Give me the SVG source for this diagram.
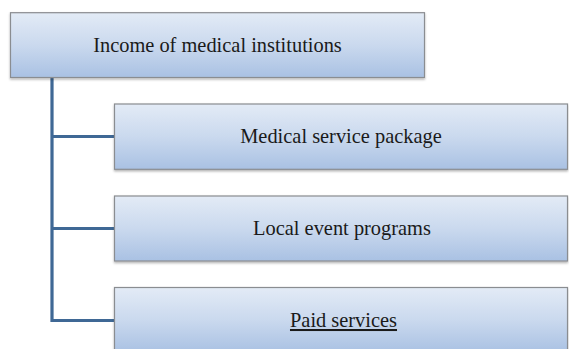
<svg xmlns="http://www.w3.org/2000/svg" width="569" height="349" viewBox="0 0 569 349">
<defs>
<linearGradient id="g" x1="0" y1="0" x2="0" y2="1">
<stop offset="0" stop-color="#e3ebf6"/>
<stop offset="0.5" stop-color="#cad9ee"/>
<stop offset="1" stop-color="#a9c1e3"/>
</linearGradient>
<filter id="sh" x="-5%" y="-10%" width="110%" height="130%">
<feDropShadow dx="0" dy="1.5" stdDeviation="1" flood-color="#000" flood-opacity="0.3"/>
</filter>
</defs>
<style>
.box{fill:url(#g);stroke:#8a8d91;stroke-width:1.2;filter:url(#sh)}
.t{font-family:"Liberation Serif","Times New Roman",serif;font-size:20.4px;fill:#1a1a1a;text-anchor:middle}
.c{fill:none;stroke:#3f6895;stroke-width:3.2}
</style>
<rect width="569" height="349" fill="#fff"/>
<g id="connectors">
<path class="c" d="M52 77 V320.5 H115"/>
<path class="c" d="M52 136.5 H115"/>
<path class="c" d="M52 228.5 H115"/>
</g>
<g id="n0">
<rect class="box" x="10.5" y="12.7" width="414" height="64.8"/>
<text class="t" x="217.5" y="51.5">Income of medical institutions</text>
</g>
<g id="n1">
<rect class="box" x="114.5" y="104" width="453" height="65.3"/>
<text class="t" x="341" y="143">Medical service package</text>
</g>
<g id="n2">
<rect class="box" x="114.5" y="196" width="453" height="65"/>
<text class="t" x="342" y="235">Local event programs</text>
</g>
<g id="n3">
<rect class="box" x="114.5" y="287.5" width="453" height="65"/>
<text class="t" x="343.5" y="327" text-decoration="underline">Paid services</text>
</g>
</svg>
